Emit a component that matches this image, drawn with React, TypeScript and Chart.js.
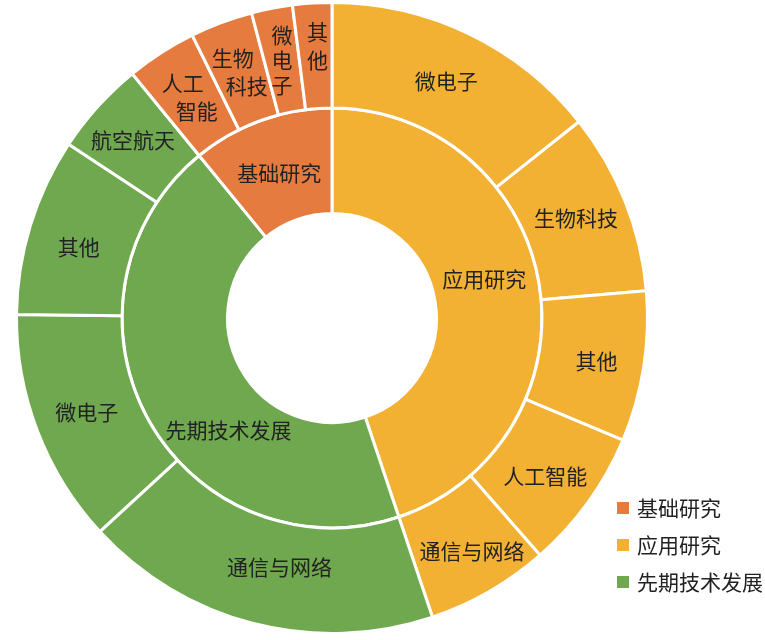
import { useEffect, useRef } from 'react';
import { Chart, registerables } from 'chart.js';

Chart.register(...registerables);

// ---- Data ----
const mainCategories = ['应用研究', '先期技术发展', '基础研究'];
const legendOrder = ['基础研究', '应用研究', '先期技术发展'];

const appliedSub = ['微电子', '生物科技', '其他', '人工智能', '通信与网络'];
const appliedValues = [14.3, 9.3, 7.7, 7.2, 6.3];

const advancedSub = ['通信与网络', '微电子', '其他', '航空航天'];
const advancedValues = [18.3, 12.0, 9.1, 4.8];

const basicSub = ['人工智能', '生物科技', '微电子', '其他'];
const basicSubDisplay = ['人工\n智能', '生物\n科技', '微\n电\n子', '其\n他'];
const basicValues = [3.6, 3.2, 2.1, 2.0];

// ---- Styles ----
const COLORS: Record<string, string> = {
  '基础研究': '#E57B3E',
  '应用研究': '#F2B133',
  '先期技术发展': '#6FA84F',
};
const FONT = '"Noto Sans CJK SC", "Noto Sans", sans-serif';
const TEXT_COLOR = '#222';

const sum = (a: number[]) => a.reduce((s, v) => s + v, 0);

export default function App() {
  const ref = useRef<HTMLCanvasElement>(null);

  useEffect(() => {
    const outerLabels = [...appliedSub, ...advancedSub, ...basicSub];
    const outerDisplay = [...appliedSub, ...advancedSub, ...basicSubDisplay];
    const outerValues = [...appliedValues, ...advancedValues, ...basicValues];
    const outerColors = [
      ...appliedSub.map(() => COLORS['应用研究']),
      ...advancedSub.map(() => COLORS['先期技术发展']),
      ...basicSub.map(() => COLORS['基础研究']),
    ];
    const innerValues = [sum(appliedValues), sum(advancedValues), sum(basicValues)];
    const innerColors = mainCategories.map((c) => COLORS[c]);

    const displayTexts = [outerDisplay, mainCategories];
    // small label nudges relative to the arc centroid (dataset index -> element index -> [dx, dy])
    const nudges: Record<number, Record<number, [number, number]>> = {
      0: { 1: [0, -3], 2: [5, 2], 3: [0, 4], 4: [9, 5], 5: [13, -5], 7: [-2, 6], 8: [-4, -2], 12: [2, -10] },
      1: { 0: [-3, -14], 1: [34, 36], 2: [0, 3] },
    };

    const arcLabels = {
      id: 'arcLabels',
      afterDatasetsDraw(chart: any) {
        const ctx = chart.ctx as CanvasRenderingContext2D;
        ctx.save();
        ctx.font = `21px ${FONT}`;
        ctx.fillStyle = TEXT_COLOR;
        ctx.textAlign = 'center';
        ctx.textBaseline = 'middle';
        chart.data.datasets.forEach((_ds: any, di: number) => {
          const meta = chart.getDatasetMeta(di);
          meta.data.forEach((el: any, i: number) => {
            const p = el.getProps(['x', 'y', 'startAngle', 'endAngle', 'innerRadius', 'outerRadius'], true);
            const mid = (p.startAngle + p.endAngle) / 2;
            const r = (p.innerRadius + p.outerRadius) / 2;
            const n = (nudges[di] && nudges[di][i]) || [0, 0];
            const cx = p.x + Math.cos(mid) * r + n[0];
            const cy = p.y + Math.sin(mid) * r + n[1];
            const lines = String(displayTexts[di][i]).split('\n');
            const lh = lines.length > 2 ? 25 : 28;
            const stagger = lines.length === 2 && lines[0].length > 1 ? 14 : 0;
            lines.forEach((ln, k) => {
              const off = k - (lines.length - 1) / 2;
              ctx.fillText(ln, cx + off * stagger, cy + off * lh);
            });
          });
        });
        ctx.restore();
      },
    };

    const customLegend = {
      id: 'customLegend',
      afterDraw(chart: any) {
        const ctx = chart.ctx as CanvasRenderingContext2D;
        ctx.save();
        ctx.font = `21px ${FONT}`;
        ctx.textAlign = 'left';
        ctx.textBaseline = 'middle';
        legendOrder.forEach((name, i) => {
          const y = 508 + i * 37;
          ctx.fillStyle = COLORS[name];
          ctx.fillRect(617, y - 6, 12, 12);
          ctx.fillStyle = TEXT_COLOR;
          ctx.fillText(name, 637, y);
        });
        ctx.restore();
      },
    };

    const chart = new Chart(ref.current as HTMLCanvasElement, {
      type: 'doughnut',
      data: {
        labels: outerLabels,
        datasets: [
          {
            data: outerValues,
            backgroundColor: outerColors,
            borderColor: '#ffffff',
            borderWidth: 3,
            hoverBorderWidth: 3,
            hoverOffset: 0,
            offset: 0,
          } as any,
          {
            data: innerValues,
            backgroundColor: innerColors,
            borderColor: '#ffffff',
            borderWidth: 3,
            hoverBorderWidth: 3,
            hoverOffset: 0,
            offset: 0,
          } as any,
        ],
      },
      options: {
        responsive: false,
        maintainAspectRatio: false,
        animation: false,
        cutout: '33.1%',
        events: [],
        layout: { padding: { left: 0, right: 101, top: 1, bottom: 5 } },
        plugins: {
          legend: { display: false },
          tooltip: { enabled: false },
        },
      },
      plugins: [arcLabels, customLegend],
    });

    return () => chart.destroy();
  }, []);

  return (
    <div style={{ position: 'absolute', left: 0, top: 0, width: 765, height: 640, background: '#fff' }}>
      <canvas ref={ref} width={765} height={640} style={{ display: 'block' }} />
    </div>
  );
}
